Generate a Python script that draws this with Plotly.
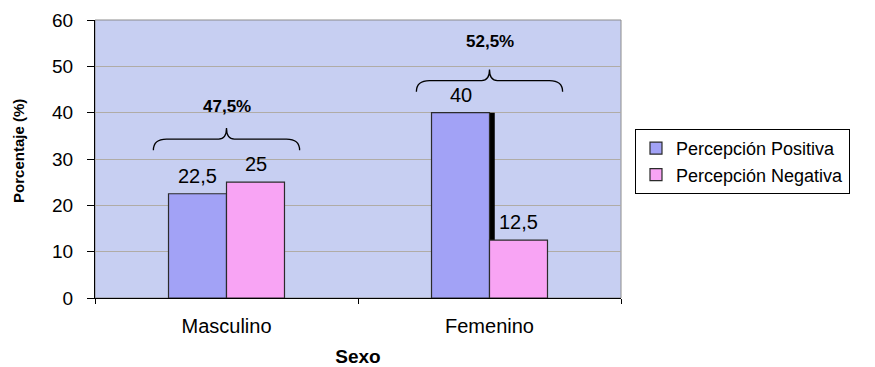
import plotly.graph_objects as go

# ---- data ----
sexo = ["Masculino", "Femenino"]
positiva = [22.5, 40]
negativa = [25, 12.5]
series_names = ["Percepción Positiva", "Percepción Negativa"]
y_ticks = [0, 10, 20, 30, 40, 50, 60]

# ---- styling / layout constants ----
FONT = "Liberation Sans, Arial, sans-serif"
BAR_W = 0.2205            # bar width in category units
SHADOW_SHIFT = 0.02       # horizontal offset of the drop shadow
COL_POS = "#a2a2f6"
COL_NEG = "#f8a4f4"
OUTLINE = "#2b2b2b"
BG = "#c7cff2"
BRACE_BOTTOM = [31.9, 44.5]   # lower ends of the group braces
BRACE_STEP = 2.4              # rise from ends to flat part and to the tip
BRACE_HALF = 0.278
LABEL_LIFT = [4.7, 6.0]       # gap between brace tip and the total label
VALUE_GAP = 9                 # px between bar top and its value label


def fmt(v):
    s = f"{v:.1f}".rstrip("0").rstrip(".")
    return s.replace(".", ",")


def brace_path(cx, hw, y0, y1, y2, r=0.05, c=0.03):
    return (f"M {cx-hw},{y0} Q {cx-hw},{y1} {cx-hw+r},{y1} "
            f"L {cx-c},{y1} Q {cx},{y1} {cx},{y2} "
            f"Q {cx},{y1} {cx+c},{y1} L {cx+hw-r},{y1} "
            f"Q {cx+hw},{y1} {cx+hw},{y0}")


fig = go.Figure()

# dark shadow on the right side of the tall Femenino bar
fig.add_trace(go.Bar(
    x=sexo, y=[None, positiva[1]], width=BAR_W, offset=-BAR_W + SHADOW_SHIFT,
    marker=dict(color="black", line=dict(width=0)),
    showlegend=False, hoverinfo="skip"))

fig.add_trace(go.Bar(
    x=sexo, y=positiva, name=series_names[0], width=BAR_W, offset=-BAR_W,
    marker=dict(color=COL_POS, line=dict(color=OUTLINE, width=1.2))))

fig.add_trace(go.Bar(
    x=sexo, y=negativa, name=series_names[1], width=BAR_W, offset=0,
    marker=dict(color=COL_NEG, line=dict(color=OUTLINE, width=1.2))))

shapes = [dict(type="rect", xref="paper", yref="paper", x0=0, x1=1, y0=0, y1=1,
               line=dict(color="#8c8c8c", width=1), layer="below")]
annotations = []

# value labels above each bar
for vals, side in ((positiva, -0.5), (negativa, 0.5)):
    for i, v in enumerate(vals):
        annotations.append(dict(x=i + side * BAR_W, y=v, xref="x", yref="y",
                                text=fmt(v), showarrow=False,
                                yanchor="bottom", yshift=VALUE_GAP - 4,
                                font=dict(family=FONT, size=20, color="black")))

# braces grouping each category, with the group total
for i, cat in enumerate(sexo):
    y0 = BRACE_BOTTOM[i]
    y1 = y0 + BRACE_STEP
    y2 = y1 + BRACE_STEP
    shapes.append(dict(type="path", xref="x", yref="y",
                       path=brace_path(i, BRACE_HALF, y0, y1, y2),
                       line=dict(color="black", width=1.3)))
    total = positiva[i] + negativa[i]
    annotations.append(dict(x=i, y=y2 + LABEL_LIFT[i], xref="x", yref="y",
                            text=f"<b>{fmt(total)}%</b>", showarrow=False,
                            font=dict(family=FONT, size=17, color="black")))

# vertical axis title
annotations.append(dict(x=-0.1445, y=0.529, xref="paper", yref="paper",
                        xanchor="center", yanchor="middle",
                        text="<b>Porcentaje (%)</b>", textangle=-90,
                        showarrow=False,
                        font=dict(family=FONT, size=15, color="black")))

fig.update_layout(
    width=875, height=367,
    margin=dict(l=95, r=254, t=20, b=69, autoexpand=False),
    barmode="overlay",
    paper_bgcolor="white", plot_bgcolor=BG,
    font=dict(family=FONT, color="black"),
    shapes=shapes, annotations=annotations,
    legend=dict(x=1.0266, y=0.608, xanchor="left", yanchor="top",
                bgcolor="white", bordercolor="black", borderwidth=1,
                font=dict(family=FONT, size=18, color="black"),
                itemwidth=30, tracegroupgap=0),
    xaxis=dict(showline=True, linecolor="black", linewidth=1,
               ticks="outside", tickson="boundaries", ticklen=5,
               tickcolor="black", ticklabelstandoff=10, automargin=False,
               tickfont=dict(family=FONT, size=20, color="black"),
               title=dict(text="<b>Sexo</b>", standoff=16,
                          font=dict(family=FONT, size=19, color="black"))),
    yaxis=dict(range=[0, 60], tickvals=y_ticks, showline=True,
               linecolor="black", linewidth=1, ticks="outside", ticklen=7,
               tickcolor="black", ticklabelstandoff=10, automargin=False,
               showgrid=True, gridcolor="#b0aca6", gridwidth=1,
               zeroline=False,
               tickfont=dict(family=FONT, size=19, color="black")),
)

fig.write_html("out.html")
